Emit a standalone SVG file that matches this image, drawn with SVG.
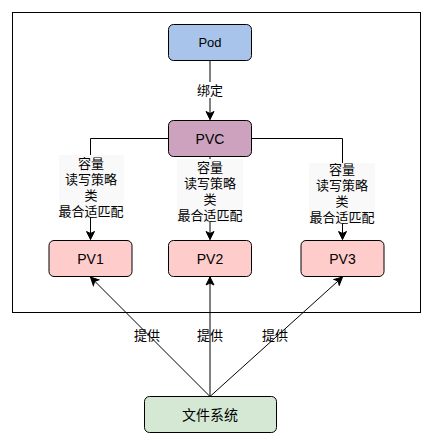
<svg xmlns="http://www.w3.org/2000/svg" width="434" height="446" viewBox="0 0 434 446">
<defs>
<marker id="arr" markerWidth="10" markerHeight="10" viewBox="0 0 10 10" refX="9" refY="5" orient="auto" markerUnits="userSpaceOnUse">
<path d="M1,1 L9,5 L1,9 L3,5 Z" fill="#000" stroke="#000" stroke-width="1"/>
</marker>
<style>
text{font-family:"Liberation Sans","Noto Sans CJK SC",sans-serif;font-size:13px;fill:#000;text-anchor:middle;dominant-baseline:central}
.n{stroke:#000;stroke-width:1}
.e{fill:none;stroke:#000;stroke-width:1}
.lb{fill:#f9f9f9}
</style>
</defs>
<rect x="12.5" y="12.5" width="408" height="300" fill="#fff" stroke="#000"/>
<g id="edges">
<line class="e" x1="210" y1="60.5" x2="210" y2="119.5" marker-end="url(#arr)"/>
<rect x="196" y="82" width="28" height="16" fill="#fff"/>
<text x="210" y="90">绑定</text>
<polyline class="e" points="168.5,138.5 90.5,138.5 90.5,239.5" marker-end="url(#arr)"/>
<line class="e" x1="210" y1="156.5" x2="210" y2="239.5" marker-end="url(#arr)"/>
<polyline class="e" points="251.5,138.5 342.5,138.5 342.5,239.5" marker-end="url(#arr)"/>
<rect class="lb" x="59" y="155" width="65" height="62"/>
<text x="91" y="163">容量</text><text x="91" y="179">读写策略</text><text x="91" y="195">类</text><text x="91" y="211">最合适匹配</text>
<rect class="lb" x="177" y="159" width="66" height="63"/>
<text x="210" y="167">容量</text><text x="210" y="183">读写策略</text><text x="210" y="199">类</text><text x="210" y="215">最合适匹配</text>
<rect class="lb" x="309" y="163" width="66" height="61"/>
<text x="342" y="169">容量</text><text x="342" y="185">读写策略</text><text x="342" y="201">类</text><text x="342" y="217">最合适匹配</text>
<line class="e" x1="210" y1="396.5" x2="90.5" y2="277" marker-end="url(#arr)"/>
<line class="e" x1="210" y1="396.5" x2="210" y2="277" marker-end="url(#arr)"/>
<line class="e" x1="210" y1="396.5" x2="342.5" y2="277" marker-end="url(#arr)"/>
<text x="147" y="335">提供</text>
<text x="210" y="335">提供</text>
<text x="275" y="335">提供</text>
</g>
<g id="pod"><rect class="n" x="168.5" y="24.5" width="83" height="36" rx="5" fill="#a9c4eb"/><text x="210" y="42.5">Pod</text></g>
<g id="pvc"><rect class="n" x="168.5" y="120.5" width="83" height="36" rx="5" fill="#cda2be"/><text x="210" y="138.5" style="font-size:14px">PVC</text></g>
<g id="pv1"><rect class="n" x="49" y="240.5" width="83" height="36" rx="5" fill="#ffcccc"/><text x="90.5" y="258.5" style="font-size:14px">PV1</text></g>
<g id="pv2"><rect class="n" x="168.5" y="240.5" width="83" height="36" rx="5" fill="#ffcccc"/><text x="210" y="258.5" style="font-size:14px">PV2</text></g>
<g id="pv3"><rect class="n" x="301" y="240.5" width="83" height="36" rx="5" fill="#ffcccc"/><text x="342.5" y="258.5" style="font-size:14px">PV3</text></g>
<g id="fs"><rect class="n" x="144.5" y="396.5" width="132" height="36" rx="5" fill="#d5e8d4"/><text x="210" y="414.5" style="font-size:14px">文件系统</text></g>
</svg>
